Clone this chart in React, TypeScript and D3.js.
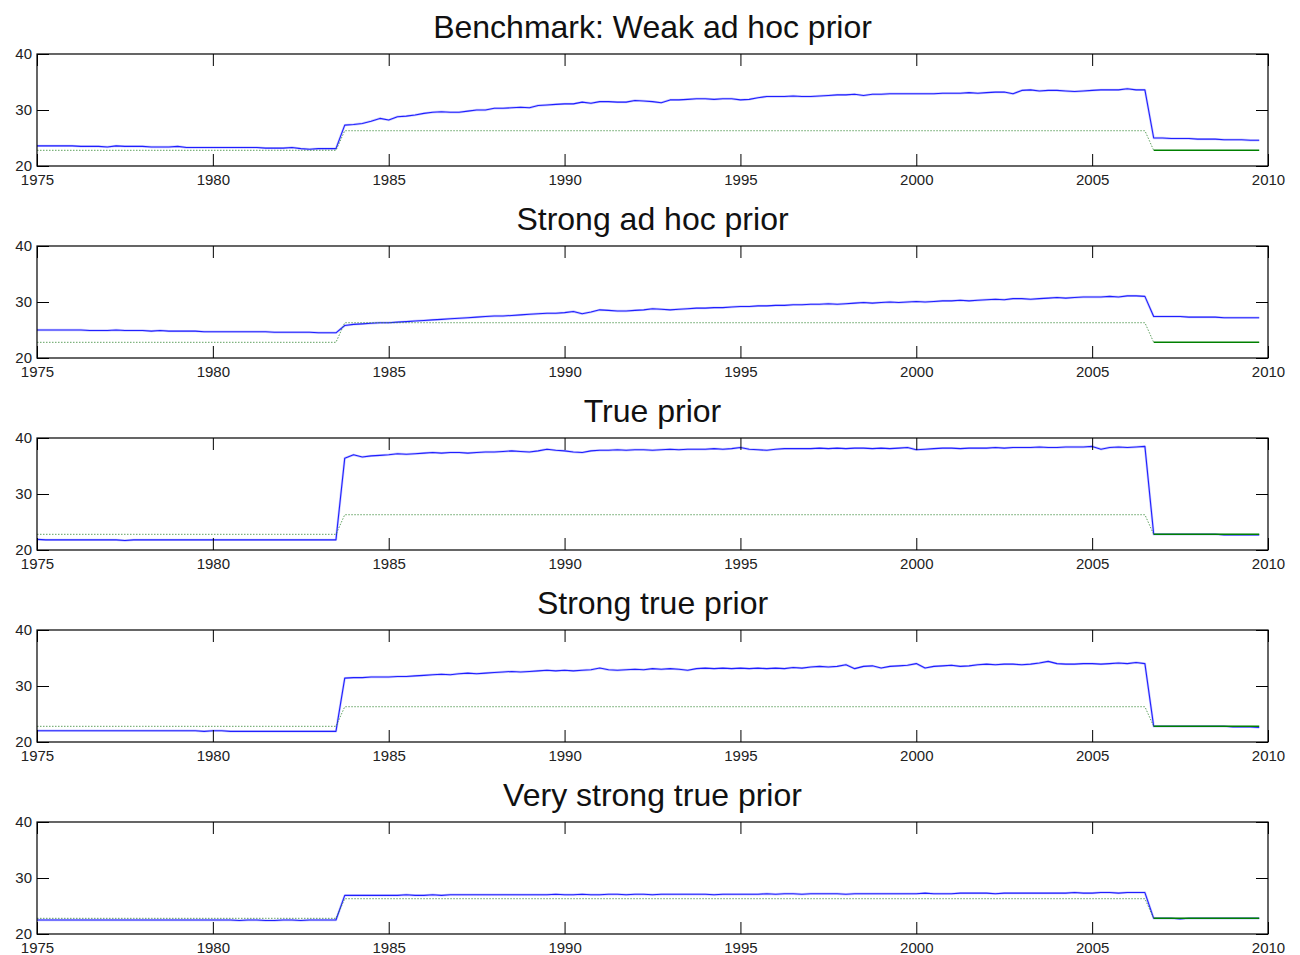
import * as d3 from 'd3';
import { useEffect, useRef } from 'react';

// quarterly observations, 1975Q1 .. 2009Q4
const quarters = d3.range(140).map(i => 1975 + i / 4);
const sampleEnd = 2006.75; // last quarter drawn dotted for the true value

// true value regimes (green)
const trueRegimes = [
  { start: 1975, end: 1983.5, level: 22.8 },
  { start: 1983.75, end: 2006.5, level: 26.3 },
  { start: 2006.75, end: 2009.75, level: 22.8 },
];

const titles = [
  'Benchmark: Weak ad hoc prior',
  'Strong ad hoc prior',
  'True prior',
  'Strong true prior',
  'Very strong true prior',
];

const xTicks = [1975, 1980, 1985, 1990, 1995, 2000, 2005, 2010];
const yTicks = [20, 30, 40];

const weakAdHoc = [
  23.6, 23.6, 23.6, 23.6, 23.6, 23.5, 23.5, 23.5, 23.4, 23.6, 23.5, 23.5,
  23.5, 23.4, 23.4, 23.4, 23.5, 23.3, 23.3, 23.3, 23.3, 23.3, 23.3, 23.3,
  23.3, 23.3, 23.2, 23.2, 23.2, 23.3, 23.1, 23.0, 23.1, 23.1, 23.1,
  27.3,
  27.4, 27.6, 28.0, 28.5, 28.2, 28.8, 28.9, 29.1, 29.4, 29.6, 29.7, 29.6,
  29.6, 29.8, 30.0, 30.0, 30.3, 30.3, 30.4, 30.5, 30.4, 30.8, 30.9, 31.0,
  31.1, 31.1, 31.4, 31.2, 31.5, 31.5, 31.4, 31.4, 31.7, 31.6, 31.5, 31.3,
  31.8, 31.8, 31.9, 32.0, 32.0, 31.9, 32.0, 32.0, 31.8, 31.9, 32.2, 32.4,
  32.4, 32.4, 32.5, 32.4, 32.4, 32.5, 32.6, 32.7, 32.7, 32.8, 32.6, 32.8,
  32.8, 32.9, 32.9, 32.9, 32.9, 32.9, 32.9, 33.0, 33.0, 33.0, 33.1, 33.0,
  33.1, 33.2, 33.2, 32.9, 33.5, 33.6, 33.4, 33.5, 33.5, 33.4, 33.3, 33.4,
  33.5, 33.6, 33.6, 33.6, 33.8, 33.6, 33.6,
  25.0, 25.0, 24.9, 24.9, 24.9, 24.8, 24.8, 24.8, 24.7, 24.7, 24.7, 24.6, 24.6,
];

const strongAdHoc = [
  25.0, 25.0, 25.0, 25.0, 25.0, 25.0, 24.9, 24.9, 24.9, 25.0, 24.9, 24.9,
  24.9, 24.8, 24.9, 24.8, 24.8, 24.8, 24.8, 24.7, 24.7, 24.7, 24.7, 24.7,
  24.7, 24.7, 24.7, 24.6, 24.6, 24.6, 24.6, 24.6, 24.5, 24.5, 24.5,
  25.8,
  26.0, 26.1, 26.2, 26.3, 26.3, 26.4, 26.5, 26.6, 26.7, 26.8, 26.9, 27.0,
  27.1, 27.2, 27.3, 27.4, 27.5, 27.5, 27.6, 27.7, 27.8, 27.9, 28.0, 28.0,
  28.1, 28.3, 27.9, 28.2, 28.6, 28.5, 28.4, 28.4, 28.5, 28.6, 28.8, 28.7,
  28.6, 28.7, 28.8, 28.9, 28.9, 29.0, 29.0, 29.1, 29.2, 29.2, 29.3, 29.3,
  29.4, 29.4, 29.5, 29.5, 29.6, 29.6, 29.7, 29.6, 29.7, 29.8, 29.9, 29.8,
  29.9, 30.0, 29.9, 30.0, 30.1, 30.0, 30.1, 30.2, 30.2, 30.3, 30.2, 30.3,
  30.4, 30.5, 30.4, 30.6, 30.6, 30.5, 30.6, 30.7, 30.8, 30.7, 30.8, 30.9,
  30.9, 30.9, 31.0, 30.9, 31.1, 31.1, 31.0,
  27.4, 27.4, 27.4, 27.4, 27.3, 27.3, 27.3, 27.3, 27.2, 27.2, 27.2, 27.2, 27.2,
];

const truePrior = [
  21.9, 21.8, 21.8, 21.8, 21.8, 21.8, 21.8, 21.8, 21.8, 21.8, 21.7, 21.8,
  21.8, 21.8, 21.8, 21.8, 21.8, 21.8, 21.8, 21.8, 21.8, 21.8, 21.8, 21.8,
  21.8, 21.8, 21.8, 21.8, 21.8, 21.8, 21.8, 21.8, 21.8, 21.8, 21.8,
  36.4,
  37.0, 36.6, 36.8, 36.9, 37.0, 37.2, 37.1, 37.2, 37.3, 37.4, 37.3, 37.4,
  37.4, 37.3, 37.4, 37.5, 37.5, 37.6, 37.7, 37.6, 37.5, 37.7, 38.0, 37.8,
  37.7, 37.5, 37.4, 37.7, 37.8, 37.8, 37.9, 37.8, 37.9, 37.9, 37.8, 37.9,
  38.0, 37.9, 38.0, 38.0, 38.0, 38.1, 38.0, 38.1, 38.3, 38.0, 37.9, 37.8,
  38.0, 38.1, 38.1, 38.1, 38.1, 38.2, 38.1, 38.2, 38.1, 38.2, 38.2, 38.1,
  38.2, 38.1, 38.2, 38.3, 37.9, 38.0, 38.1, 38.2, 38.2, 38.1, 38.2, 38.2,
  38.2, 38.3, 38.2, 38.3, 38.3, 38.3, 38.4, 38.3, 38.3, 38.4, 38.4, 38.4,
  38.5, 38.0, 38.3, 38.4, 38.3, 38.4, 38.5,
  22.8, 22.8, 22.8, 22.8, 22.8, 22.8, 22.8, 22.8, 22.7, 22.7, 22.7, 22.7, 22.7,
];

const strongTrue = [
  22.0, 22.0, 22.0, 22.0, 22.0, 22.0, 22.0, 22.0, 22.0, 22.0, 22.0, 22.0,
  22.0, 22.0, 22.0, 22.0, 22.0, 22.0, 22.0, 21.9, 22.0, 22.0, 21.9, 21.9,
  21.9, 21.9, 21.9, 21.9, 21.9, 21.9, 21.9, 21.9, 21.9, 21.9, 21.9,
  31.4,
  31.5, 31.5, 31.6, 31.6, 31.6, 31.7, 31.7, 31.8, 31.9, 32.0, 32.1, 32.0,
  32.2, 32.3, 32.2, 32.3, 32.4, 32.5, 32.6, 32.5, 32.6, 32.7, 32.8, 32.7,
  32.8, 32.7, 32.8, 32.9, 33.2, 32.9, 32.8, 32.9, 33.0, 32.9, 33.1, 33.0,
  33.1, 33.0, 32.8, 33.1, 33.2, 33.1, 33.2, 33.1, 33.2, 33.1, 33.2, 33.1,
  33.2, 33.1, 33.3, 33.2, 33.4, 33.5, 33.4, 33.5, 33.8, 33.1, 33.5, 33.6,
  33.2, 33.5, 33.6, 33.7, 34.0, 33.2, 33.5, 33.6, 33.7, 33.5, 33.6, 33.8,
  33.9, 33.8, 33.9, 33.9, 33.8, 33.9, 34.1, 34.4, 34.0, 33.9, 33.9, 34.0,
  34.0, 33.9, 34.0, 34.1, 34.0, 34.2, 34.0,
  22.8, 22.8, 22.8, 22.8, 22.8, 22.8, 22.8, 22.8, 22.8, 22.7, 22.7, 22.7, 22.6,
];

const veryStrongTrue = [
  22.5, 22.5, 22.5, 22.5, 22.5, 22.5, 22.5, 22.5, 22.5, 22.5, 22.5, 22.5,
  22.5, 22.5, 22.5, 22.5, 22.5, 22.5, 22.5, 22.5, 22.5, 22.5, 22.5, 22.4,
  22.5, 22.5, 22.4, 22.4, 22.5, 22.5, 22.4, 22.5, 22.5, 22.5, 22.5,
  26.9,
  26.9, 26.9, 26.9, 26.9, 26.9, 26.9, 27.0, 26.9, 26.9, 27.0, 26.9, 27.0,
  27.0, 27.0, 27.0, 27.0, 27.0, 27.0, 27.0, 27.0, 27.0, 27.0, 27.0, 27.1,
  27.0, 27.0, 27.1, 27.0, 27.0, 27.1, 27.1, 27.0, 27.1, 27.1, 27.0, 27.1,
  27.1, 27.1, 27.1, 27.1, 27.1, 27.0, 27.1, 27.1, 27.1, 27.1, 27.1, 27.2,
  27.1, 27.2, 27.2, 27.1, 27.2, 27.2, 27.2, 27.2, 27.1, 27.2, 27.2, 27.2,
  27.2, 27.2, 27.2, 27.2, 27.2, 27.3, 27.2, 27.2, 27.2, 27.3, 27.3, 27.3,
  27.3, 27.2, 27.3, 27.3, 27.3, 27.3, 27.3, 27.3, 27.3, 27.3, 27.4, 27.3,
  27.3, 27.4, 27.4, 27.3, 27.4, 27.4, 27.4,
  22.8, 22.8, 22.8, 22.7, 22.8, 22.8, 22.8, 22.8, 22.8, 22.8, 22.8, 22.8, 22.8,
];

const estimates = [weakAdHoc, strongAdHoc, truePrior, strongTrue, veryStrongTrue];

const W = 1300;
const H = 955;
const left = 37;
const right = 1268;
const panelTop = 54;
const panelStep = 192;
const panelHeight = 112;
const font = "'Liberation Sans', Arial, sans-serif";

export default function App() {
  const ref = useRef(null);

  useEffect(() => {
    const svg = d3.select(ref.current);
    svg.selectAll('*').remove();

    const x = d3.scaleLinear().domain([1975, 2010]).range([left, right]);

    // true value at each quarter, from the regimes
    const trueSeries = quarters.map(t => {
      const r = trueRegimes.find(r => t >= r.start && t <= r.end);
      return { t, v: r.level };
    });

    estimates.forEach((series, i) => {
      const top = panelTop + i * panelStep;
      const y = d3.scaleLinear().domain([20, 40]).range([top + panelHeight, top]);
      const g = svg.append('g');

      g.append('text')
        .attr('x', (left + right) / 2)
        .attr('y', top - 16)
        .attr('text-anchor', 'middle')
        .style('font-family', font)
        .style('font-size', '32px')
        .attr('fill', '#111')
        .text(titles[i]);

      const line = d3.line().x(d => x(d.t)).y(d => y(d.v));

      // estimate (blue)
      const est = quarters.map((t, k) => ({ t, v: series[k] }));
      g.append('path')
        .datum(est)
        .attr('fill', 'none')
        .attr('stroke', '#8c8cff')
        .attr('stroke-width', 2.4)
        .attr('stroke-opacity', 0.45)
        .attr('stroke-linejoin', 'round')
        .attr('d', line);
      g.append('path')
        .datum(est)
        .attr('fill', 'none')
        .attr('stroke', '#1f1fff')
        .attr('stroke-width', 1.1)
        .attr('stroke-linejoin', 'round')
        .attr('d', line);

      // true value (green): dotted in sample, solid after
      g.append('path')
        .datum(trueSeries.filter(d => d.t <= sampleEnd))
        .attr('fill', 'none')
        .attr('stroke', '#3a8a3a')
        .attr('stroke-width', 1)
        .attr('stroke-dasharray', '1.5,1.5')
        .attr('stroke-opacity', 0.8)
        .attr('d', line);
      g.append('path')
        .datum(trueSeries.filter(d => d.t >= sampleEnd))
        .attr('fill', 'none')
        .attr('stroke', '#008000')
        .attr('stroke-width', 1.5)
        .attr('d', line);

      // axes with inward ticks
      const axisStyle = sel => {
        sel.selectAll('line').attr('stroke', '#000');
        sel.selectAll('path.domain').remove();
        sel.selectAll('text')
          .style('font-family', font)
          .style('font-size', '15px')
          .attr('fill', '#222');
      };

      g.append('g')
        .attr('transform', `translate(0,${top + panelHeight})`)
        .call(d3.axisBottom(x).tickValues(xTicks).tickFormat(d3.format('d'))
          .tickSizeInner(-12).tickSizeOuter(0).tickPadding(8))
        .call(axisStyle);
      g.append('g')
        .attr('transform', `translate(0,${top})`)
        .call(d3.axisTop(x).tickValues(xTicks).tickFormat(() => '')
          .tickSizeInner(-12).tickSizeOuter(0))
        .call(axisStyle);
      g.append('g')
        .attr('transform', `translate(${left},0)`)
        .call(d3.axisLeft(y).tickValues(yTicks).tickFormat(d3.format('d'))
          .tickSizeInner(-12).tickSizeOuter(0).tickPadding(5))
        .call(axisStyle);
      g.append('g')
        .attr('transform', `translate(${right},0)`)
        .call(d3.axisRight(y).tickValues(yTicks).tickFormat(() => '')
          .tickSizeInner(-12).tickSizeOuter(0))
        .call(axisStyle);

      g.append('rect')
        .attr('x', left)
        .attr('y', top)
        .attr('width', right - left)
        .attr('height', panelHeight)
        .attr('fill', 'none')
        .attr('stroke', '#000')
        .attr('stroke-width', 1.2);
    });

    return () => {
      svg.selectAll('*').remove();
    };
  }, []);

  return (
    <svg
      ref={ref}
      width={W}
      height={H}
      style={{ position: 'absolute', left: 0, top: 0, background: '#fff' }}
    />
  );
}
